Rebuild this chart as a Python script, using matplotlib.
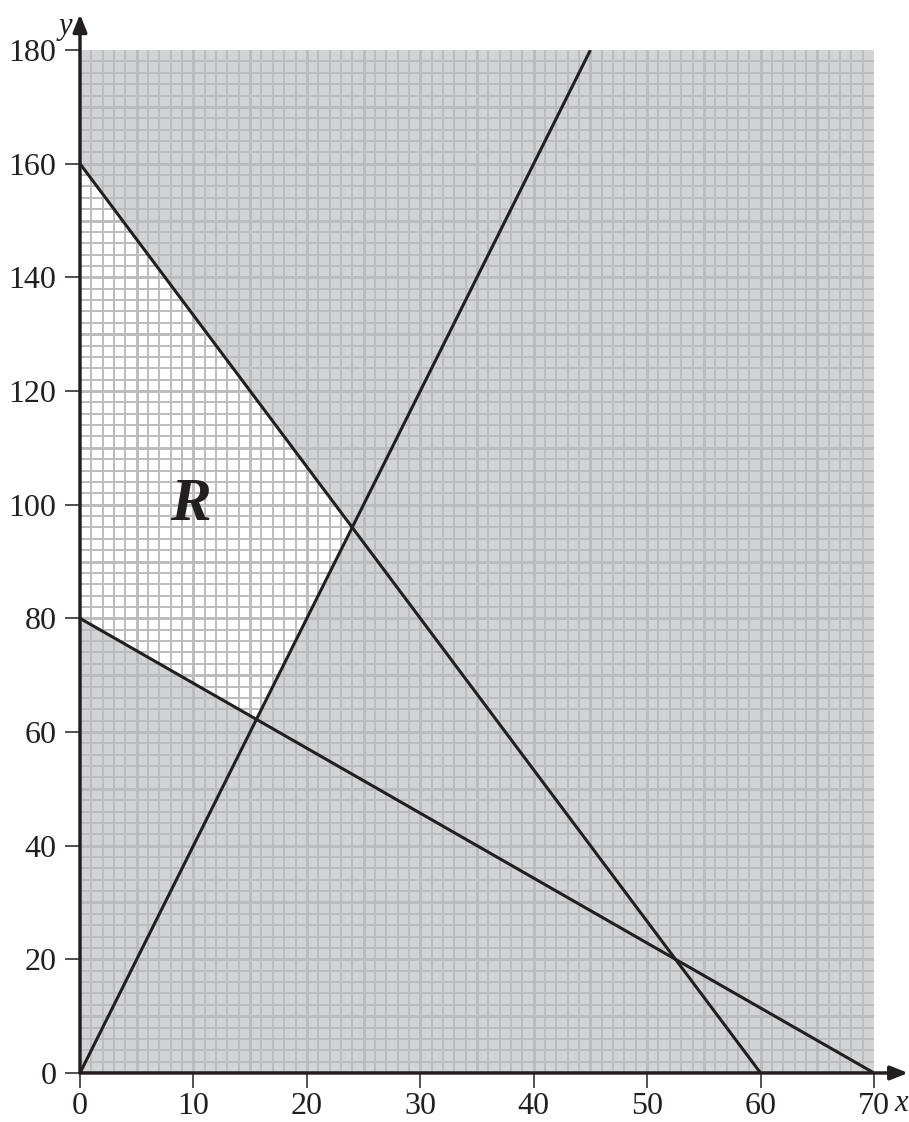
import numpy as np
import matplotlib.pyplot as plt
from matplotlib.patches import Polygon, Rectangle

# boundary lines, given by the two points where each one meets the frame
line_x0 = [0, 0, 0]
line_y0 = [0, 160, 80]
line_x1 = [45, 60, 70]
line_y1 = [180, 0, 0]

# vertices of the unshaded region R
r_x = [0, 15.56, 24, 0]
r_y = [80, 62.22, 96, 160]

x_ticks = [0, 10, 20, 30, 40, 50, 60, 70]
y_ticks = [0, 20, 40, 60, 80, 100, 120, 140, 160, 180]

plt.rcParams['font.family'] = ['Liberation Serif', 'DejaVu Serif']

fig = plt.figure(figsize=(9.09, 11.22), dpi=100)
ax = fig.add_axes([0.088, 0.0437, 0.8735, 0.9117])
ax.set_xlim(0, 70)
ax.set_ylim(0, 180)

ax.add_patch(Rectangle((0, 0), 70, 180, facecolor='#d2d3d5', edgecolor='none', zorder=0))
ax.add_patch(Polygon(list(zip(r_x, r_y)), closed=True, facecolor='white', edgecolor='none', zorder=1))

grid_col = '#bbbcbe'
for gx in np.arange(1, 70):
    major = gx % 5 == 0
    ax.axvline(gx, color=grid_col, lw=2.1 if major else 1.4, zorder=2)
for gy in np.arange(2, 180, 2):
    major = gy % 10 == 0
    ax.axhline(gy, color=grid_col, lw=2.1 if major else 1.4, zorder=2)

for xa, ya, xb, yb in zip(line_x0, line_y0, line_x1, line_y1):
    ax.plot([xa, xb], [ya, yb], color='#231f20', lw=2.2, zorder=4, solid_capstyle='butt')

ax.text(9.7, 100, 'R', fontsize=44, fontweight='bold', fontstyle='italic',
        ha='center', va='center', color='#231f20', zorder=5)

for s in ['top', 'right', 'left', 'bottom']:
    ax.spines[s].set_visible(False)

# axes with arrows
ax.annotate('', xy=(73.0, 0), xytext=(0, 0), xycoords='data',
            arrowprops=dict(arrowstyle='-|>,head_length=1.05,head_width=0.42', color='#231f20', lw=2.5,
                            shrinkA=0, shrinkB=0), annotation_clip=False, zorder=6)
ax.annotate('', xy=(0, 186.3), xytext=(0, 0), xycoords='data',
            arrowprops=dict(arrowstyle='-|>,head_length=1.05,head_width=0.42', color='#231f20', lw=2.5,
                            shrinkA=0, shrinkB=0), annotation_clip=False, zorder=6)

ax.text(72.4, -5.4, 'x', fontsize=22, fontstyle='italic', ha='center', va='center', color='#231f20')
ax.text(-1.3, 184.2, 'y', fontsize=22, fontstyle='italic', ha='center', va='center', color='#231f20')

ax.set_xticks(x_ticks)
ax.set_yticks(y_ticks)
ax.tick_params(direction='out', length=11, width=1.1, color='#231f20', labelsize=23,
               labelcolor='#231f20')
ax.tick_params(axis='x', pad=3)
ax.tick_params(axis='y', pad=6)

fig.savefig('out.png', dpi=100)
